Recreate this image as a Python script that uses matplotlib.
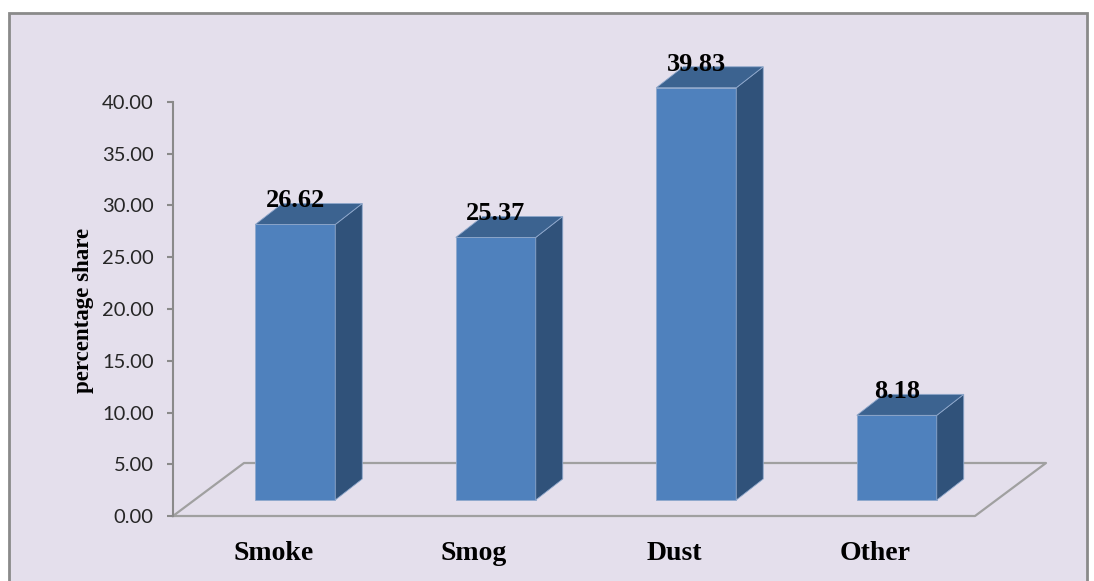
import numpy as np
import matplotlib
matplotlib.use("Agg")
import matplotlib.pyplot as plt
from matplotlib.patches import Polygon, Rectangle

categories = ["Smoke", "Smog", "Dust", "Other"]
values = [26.62, 25.37, 39.83, 8.18]
yticks = [0, 5, 10, 15, 20, 25, 30, 35, 40]
ylabel = "percentage share"

W, H = 1094, 581
fig = plt.figure(figsize=(W / 100, H / 100), dpi=100)
fig.patch.set_facecolor("white")
fig.patches.append(Rectangle((9 / W, -0.05), (1087 - 9) / W, (H - 13) / H + 0.05,
                             transform=fig.transFigure, fc="#E4DFEC", ec="#8A8A8A",
                             lw=2, zorder=-10))

ax_left, ax_right, ax_bot, ax_top = 173, 1044, 516, 102
ax = fig.add_axes([ax_left / W, (H - ax_bot) / H, (ax_right - ax_left) / W, (ax_bot - ax_top) / H])
ax.set_facecolor("none")

px_per_x = 200.5
px_per_y = (ax_bot - ax_top) / 40.0
xmin = -0.5
ax.set_xlim(xmin, xmin + (ax_right - ax_left) / px_per_x)
ax.set_ylim(0, 40)

# 3D projection constants
floor_dx = 71 / px_per_x
floor_dy = 53 / px_per_y
bar_dx = 27 / px_per_x
bar_dy = 21 / px_per_y
base = 16 / px_per_y
bar_shift = 22 / px_per_x
bar_w = 80 / px_per_x

n = len(categories)
pos = np.arange(n)

# floor
fx0, fx1 = xmin, xmin + n
floor = [(fx0, 0), (fx1, 0), (fx1 + floor_dx, floor_dy), (fx0 + floor_dx, floor_dy), (fx0, 0)]
fxs, fys = zip(*floor)
ax.plot(fxs, fys, color="#A0A0A0", lw=1.6, clip_on=False, zorder=1)

front_c = "#4F81BD"
side_c = "#30527A"
top_c = "#3C6390"
edge_c = "#8FA8CC"

bars = ax.bar(pos + bar_shift, values, width=bar_w, bottom=base, color=front_c,
              edgecolor=edge_c, lw=0.6, zorder=3, clip_on=False)
for b, v in zip(bars, values):
    x0 = b.get_x()
    x1 = x0 + b.get_width()
    y0 = b.get_y()
    y1 = y0 + b.get_height()
    side = Polygon([(x1, y0), (x1 + bar_dx, y0 + bar_dy), (x1 + bar_dx, y1 + bar_dy), (x1, y1)],
                   closed=True, fc=side_c, ec=edge_c, lw=0.6, zorder=3, clip_on=False)
    top = Polygon([(x0, y1), (x1, y1), (x1 + bar_dx, y1 + bar_dy), (x0 + bar_dx, y1 + bar_dy)],
                  closed=True, fc=top_c, ec=edge_c, lw=0.6, zorder=3, clip_on=False)
    ax.add_patch(side)
    ax.add_patch(top)
    ax.text((x0 + x1) / 2, y1 + 17 / px_per_y, f"{v:.2f}", ha="center", va="baseline",
            family="Liberation Serif", fontweight="bold", fontsize=19, color="black",
            zorder=5, clip_on=False)

for s in ["top", "right", "bottom"]:
    ax.spines[s].set_visible(False)
ax.spines["left"].set_color("#8A8A8A")
ax.spines["left"].set_linewidth(1.5)

ax.set_yticks(yticks)
ax.set_yticklabels([f"{t:.2f}" for t in yticks], family="Lato", fontsize=14.5, color="#262626")
ax.tick_params(axis="y", direction="out", length=4, width=1.5, color="#8A8A8A", pad=10)

ax.set_xticks(pos)
ax.set_xticklabels(categories, family="Liberation Serif", fontweight="bold", fontsize=20,
                   color="black")
ax.tick_params(axis="x", length=0, pad=18)

fig.text(83 / W, 1 - 310 / H, ylabel, rotation=90, ha="center", va="center",
         family="Liberation Serif", fontweight="bold", fontsize=16.5, color="black")

fig.savefig("out.png", dpi=100, facecolor=fig.get_facecolor())
